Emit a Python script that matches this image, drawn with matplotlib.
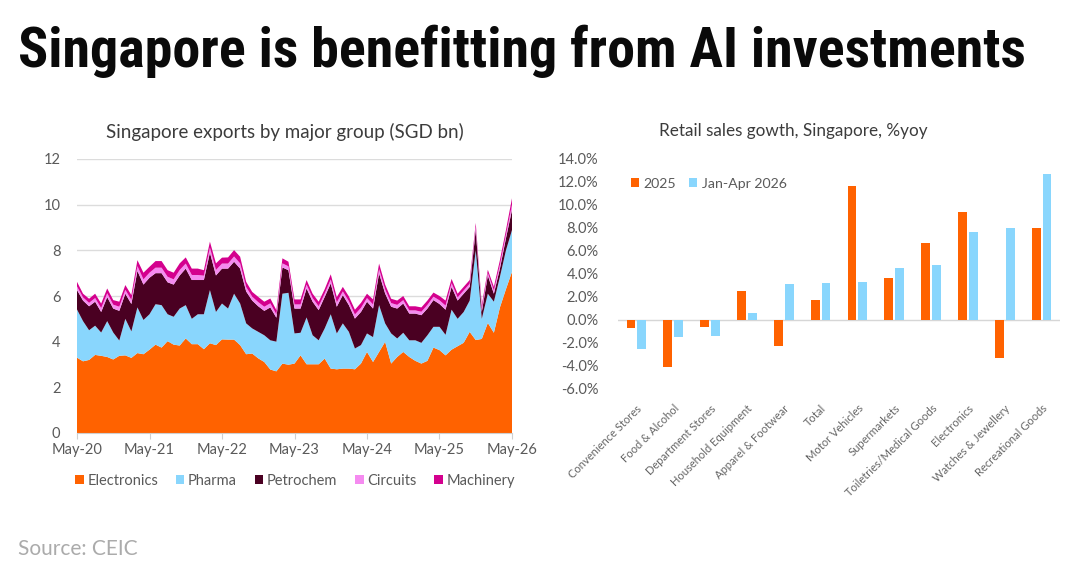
import matplotlib
matplotlib.use("Agg")
import matplotlib.pyplot as plt
from matplotlib import font_manager
import numpy as np
from matplotlib.patches import Patch

# ---------------- data ----------------
month_ticks = ["May-20", "May-21", "May-22", "May-23", "May-24", "May-25", "May-26"]

electronics = [3.30, 3.14, 3.20, 3.42, 3.38, 3.33, 3.22, 3.38, 3.40, 3.29, 3.50, 3.45,
               3.65, 3.87, 3.74, 4.02, 3.87, 3.83, 4.14, 3.89, 3.89, 3.67, 3.93, 3.85,
               4.10, 4.09, 4.09, 3.85, 3.45, 3.48, 3.27, 3.11, 2.78, 2.70, 3.04, 2.99,
               3.04, 3.40, 3.01, 3.01, 3.01, 3.26, 2.82, 2.79, 2.82, 2.82, 2.79, 3.04,
               3.55, 3.11, 3.55, 3.99, 3.04, 3.33, 3.55, 3.33, 3.16, 3.04, 3.16, 3.74,
               3.63, 3.40, 3.65, 3.80, 3.95, 4.43, 4.07, 4.12, 4.82, 4.39, 5.50, 6.30,
               7.06]
pharma = [2.11, 1.76, 1.30, 1.28, 1.02, 1.57, 1.18, 0.67, 1.60, 1.16, 2.00, 1.50,
          1.55, 1.77, 1.86, 1.18, 1.22, 1.62, 1.46, 1.11, 1.31, 1.53, 2.33, 1.45,
          1.57, 1.36, 2.01, 1.82, 1.35, 1.10, 1.16, 1.17, 1.28, 1.30, 3.06, 3.15,
          1.32, 0.99, 2.05, 1.27, 1.05, 1.32, 2.38, 1.57, 1.98, 1.61, 0.91, 0.81,
          0.81, 1.09, 2.05, 0.81, 1.32, 0.81, 0.84, 0.73, 0.90, 0.91, 1.12, 0.91,
          1.02, 0.90, 1.75, 1.20, 1.35, 1.37, 3.93, 0.88, 1.28, 1.36, 1.34, 1.70,
          1.83]
petrochem = [0.85, 0.90, 1.05, 1.05, 0.90, 1.05, 1.05, 1.30, 1.10, 1.20, 1.60, 1.55,
             1.60, 1.36, 1.40, 1.40, 1.41, 1.45, 1.60, 1.70, 1.50, 1.50, 1.64, 1.60,
             1.53, 1.75, 1.40, 1.53, 1.40, 1.22, 1.12, 1.07, 1.44, 1.05, 1.15, 0.99,
             1.09, 1.06, 1.27, 1.47, 1.32, 1.38, 1.35, 1.17, 1.24, 1.17, 1.31, 1.45,
             1.39, 1.25, 1.39, 1.31, 1.17, 1.31, 1.28, 1.17, 1.17, 1.21, 1.17, 1.17,
             1.00, 1.10, 1.00, 0.80, 0.80, 0.60, 0.90, 0.30, 0.80, 0.35, 0.36, 0.53,
             0.88]
circuits = [0.16, 0.14, 0.15, 0.16, 0.17, 0.17, 0.17, 0.18, 0.17, 0.18, 0.21, 0.23,
            0.22, 0.24, 0.24, 0.24, 0.23, 0.24, 0.22, 0.22, 0.22, 0.19, 0.22, 0.24,
            0.22, 0.22, 0.23, 0.23, 0.19, 0.17, 0.18, 0.18, 0.18, 0.15, 0.18, 0.17,
            0.18, 0.18, 0.17, 0.16, 0.17, 0.15, 0.18, 0.19, 0.16, 0.17, 0.18, 0.18,
            0.16, 0.18, 0.19, 0.18, 0.16, 0.16, 0.15, 0.14, 0.14, 0.15, 0.16, 0.15,
            0.16, 0.18, 0.16, 0.14, 0.14, 0.14, 0.14, 0.14, 0.11, 0.14, 0.17, 0.16,
            0.23]
machinery = [0.20, 0.16, 0.18, 0.19, 0.20, 0.21, 0.20, 0.22, 0.21, 0.21, 0.26, 0.29,
             0.26, 0.29, 0.29, 0.29, 0.29, 0.29, 0.27, 0.28, 0.28, 0.24, 0.26, 0.29,
             0.26, 0.27, 0.28, 0.29, 0.23, 0.21, 0.23, 0.22, 0.21, 0.18, 0.22, 0.20,
             0.22, 0.22, 0.20, 0.19, 0.20, 0.19, 0.22, 0.23, 0.20, 0.21, 0.21, 0.22,
             0.19, 0.22, 0.24, 0.21, 0.19, 0.19, 0.18, 0.18, 0.18, 0.19, 0.19, 0.18,
             0.19, 0.22, 0.19, 0.16, 0.16, 0.16, 0.16, 0.16, 0.14, 0.16, 0.20, 0.20,
             0.28]
export_groups = ["Electronics", "Pharma", "Petrochem", "Circuits", "Machinery"]

retail_categories = ["Convenience Stores", "Food & Alcohol", "Department Stores",
                     "Household Equipment", "Apparel & Footwear", "Total",
                     "Motor Vehicles", "Supermarkets", "Toiletries/Medical Goods",
                     "Electronics", "Watches & Jewellery", "Recreational Goods"]
retail_2025 = [-0.7, -4.1, -0.6, 2.5, -2.3, 1.7, 11.6, 3.6, 6.6, 9.3, -3.3, 7.9]
retail_2026 = [-2.5, -1.5, -1.4, 0.6, 3.1, 3.2, 3.3, 4.5, 4.7, 7.6, 7.9, 12.6]
retail_series = ["2025", "Jan-Apr 2026"]

# ---------------- style ----------------
ORANGE = "#FF6200"
BLUE = "#89D6FD"
MAROON = "#4A0022"
PINK = "#F58BF0"
MAGENTA = "#D4008E"
TXT = "#5A5A5A"
GRID = "#DCDCDC"
FONT = ["Lato", "DejaVu Sans"]
plt.rcParams["font.family"] = FONT

# find a narrow/condensed bold face for the headline if one is installed
title_family = None
title_stretch = "normal"
names = sorted({f.name for f in font_manager.fontManager.ttflist})
for cand in ["Liberation Sans Narrow", "Roboto Condensed", "Open Sans Condensed",
             "Noto Sans Condensed", "DejaVu Sans Condensed", "Arial Narrow"]:
    if cand in names:
        title_family = cand
        break
if title_family is None:
    for f in font_manager.fontManager.ttflist:
        if f.stretch in ("condensed", "semi-condensed", "extra-condensed") and f.name in (
                "DejaVu Sans", "Noto Sans", "Open Sans", "Roboto", "Inter"):
            title_family = f.name
            title_stretch = f.stretch
            break
if title_family is None:
    title_family = "Roboto"

fig = plt.figure(figsize=(10.8, 5.8), dpi=100)

title = fig.text(0.017, 0.885, "Singapore is benefitting from AI investments",
                 family=[title_family, "DejaVu Sans"], fontweight="black",
                 fontstretch=title_stretch, fontsize=38, color="#0A0A0A",
                 ha="left", va="baseline")
# fit the headline to the reference width (about 1007 px)
fig.canvas.draw()
bb = title.get_window_extent()
title.set_fontsize(38 * 1007.0 / bb.width)
fig.canvas.draw()
bb = title.get_window_extent()
title.set_fontsize(title.get_fontsize() * 1007.0 / bb.width)

# ---------------- left chart ----------------
axL = fig.add_axes([77 / 1080, 1 - 433 / 580, 435 / 1080, 274 / 580])
x = np.arange(len(electronics))
axL.stackplot(x, electronics, pharma, petrochem, circuits, machinery,
              colors=[ORANGE, BLUE, MAROON, PINK, MAGENTA], linewidth=0,
              labels=export_groups)
axL.set_xlim(0, len(electronics) - 1)
axL.set_ylim(0, 12)
axL.set_yticks(np.arange(0, 13, 2))
axL.set_xticks(np.arange(0, len(electronics), 12))
axL.set_xticklabels(month_ticks)
axL.grid(axis="y", color=GRID, linewidth=1)
axL.set_axisbelow(True)
for s in ["left", "right", "top"]:
    axL.spines[s].set_visible(False)
axL.spines["bottom"].set_color("#CFCFCF")
axL.tick_params(axis="y", length=0, pad=12, labelsize=10.5, labelcolor=TXT)
axL.tick_params(axis="x", length=4, color="#CFCFCF", pad=3, labelsize=10.5, labelcolor=TXT)
axL.set_title("Singapore exports by major group (SGD bn)", fontsize=13.5,
              color="#3C3C3C", pad=15, x=(285 - 77) / 435)

handlesL = [Patch(facecolor=c) for c in [ORANGE, BLUE, MAROON, PINK, MAGENTA]]
fig.legend(handlesL, export_groups, loc="center", bbox_to_anchor=(295 / 1080, 1 - 481 / 580),
           ncol=5, frameon=False, fontsize=10.5, handlelength=0.6, handleheight=0.6,
           handletextpad=0.25, columnspacing=1.2, labelcolor=TXT)

# ---------------- right chart ----------------
axR = fig.add_axes([618 / 1080, 1 - 389 / 580, 442 / 1080, 231 / 580])
xc = np.arange(len(retail_categories))
w = 0.24
axR.bar(xc - 0.145, retail_2025, width=w, color=ORANGE, label=retail_series[0])
axR.bar(xc + 0.145, retail_2026, width=w, color=BLUE, label=retail_series[1])
axR.axhline(0, color="#D6D6D6", linewidth=1, zorder=0)
axR.set_xlim(-0.5, len(retail_categories) - 0.5)
axR.set_ylim(-6, 14)
axR.set_yticks(np.arange(-6, 15, 2))
axR.set_yticklabels([f"{v:.1f}%" for v in np.arange(-6, 15, 2)])
axR.set_xticks(xc)
axR.set_xticklabels(retail_categories, rotation=45, ha="right", rotation_mode="anchor",
                    fontsize=8, color="#666666")
for s in ["left", "right", "top", "bottom"]:
    axR.spines[s].set_visible(False)
axR.tick_params(axis="y", length=0, pad=14, labelsize=10.5, labelcolor=TXT)
axR.tick_params(axis="x", length=0, pad=10)
axR.set_title("Retail sales gowth, Singapore, %yoy", fontsize=12.3, color="#3C3C3C",
              pad=16, x=(793 - 618) / 442)
axR.legend(loc="upper left", bbox_to_anchor=(0.0, 0.97), ncol=2, frameon=False,
           fontsize=10.2, handlelength=0.6, handleheight=0.6, handletextpad=0.3,
           columnspacing=0.9, labelcolor=TXT)

fig.text(18 / 1080, 1 - 549 / 580, "Source: CEIC", fontsize=15, color="#ABABAB",
         ha="left", va="center")

fig.savefig("out.png", dpi=100, facecolor="white")
